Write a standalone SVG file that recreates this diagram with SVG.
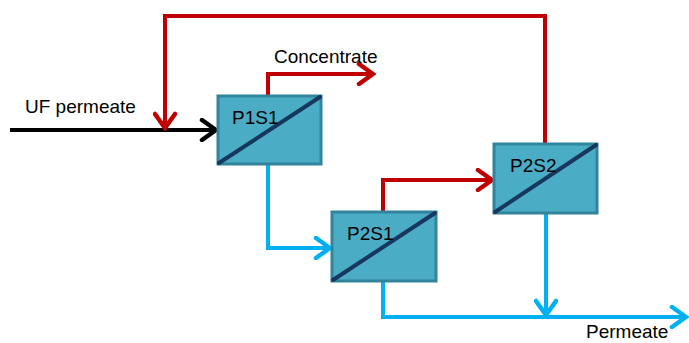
<svg xmlns="http://www.w3.org/2000/svg" width="689" height="343" viewBox="0 0 689 343">
<style>
.box{fill:#4BACC6;stroke:#31849B;stroke-width:3}
.diag{stroke:#17375E;stroke-width:4;stroke-linecap:round}
.lbl{font-family:"Liberation Sans",Arial,sans-serif;font-size:19px;fill:#000}
.red{fill:none;stroke:#C00000;stroke-width:4}
.blue{fill:none;stroke:#00B0F0;stroke-width:4}
.black{fill:none;stroke:#000;stroke-width:4}
</style>
<defs>
<marker id="ar" viewBox="0 0 20 24" refX="18" refY="12" markerWidth="20" markerHeight="24" markerUnits="userSpaceOnUse" orient="auto"><path d="M3,2 L17,12 L3,22" fill="none" stroke="#C00000" stroke-width="4.5" stroke-linecap="round"/></marker>
<marker id="ab" viewBox="0 0 20 24" refX="18" refY="12" markerWidth="20" markerHeight="24" markerUnits="userSpaceOnUse" orient="auto"><path d="M3,2 L17,12 L3,22" fill="none" stroke="#00B0F0" stroke-width="4.5" stroke-linecap="round"/></marker>
<marker id="ak" viewBox="0 0 20 24" refX="18" refY="12" markerWidth="20" markerHeight="24" markerUnits="userSpaceOnUse" orient="auto"><path d="M3,2 L17,12 L3,22" fill="none" stroke="#000" stroke-width="4.5" stroke-linecap="round"/></marker>
</defs>
<g id="connectors">
<path class="black" d="M10,130 H217" marker-end="url(#ak)"/>
<path class="red" d="M545,143 V16 H165 V129" marker-end="url(#ar)"/>
<path class="red" d="M268,95 V74 H374" marker-end="url(#ar)"/>
<path class="blue" d="M268,165 V248 H331" marker-end="url(#ab)"/>
<path class="red" d="M383,211 V180 H493" marker-end="url(#ar)"/>
<path class="blue" d="M383,282 V317 H687" marker-end="url(#ab)"/>
<path class="blue" d="M546,214 V316" marker-end="url(#ab)"/>
</g>
<g id="P1S1">
<rect class="box" x="218" y="96" width="103" height="68"/>
<line class="diag" x1="219" y1="163" x2="320" y2="97"/>
<text class="lbl" x="232" y="124">P1S1</text>
</g>
<g id="P2S1">
<rect class="box" x="332" y="212" width="104" height="69"/>
<line class="diag" x1="333" y1="280" x2="435" y2="213"/>
<text class="lbl" x="347" y="240">P2S1</text>
</g>
<g id="P2S2">
<rect class="box" x="494" y="144" width="103" height="69"/>
<line class="diag" x1="495" y1="212" x2="596" y2="145"/>
<text class="lbl" x="510" y="172">P2S2</text>
</g>
<g id="labels">
<text class="lbl" x="25" y="113">UF permeate</text>
<text class="lbl" x="274" y="63">Concentrate</text>
<text class="lbl" x="586" y="338">Permeate</text>
</g>
</svg>
